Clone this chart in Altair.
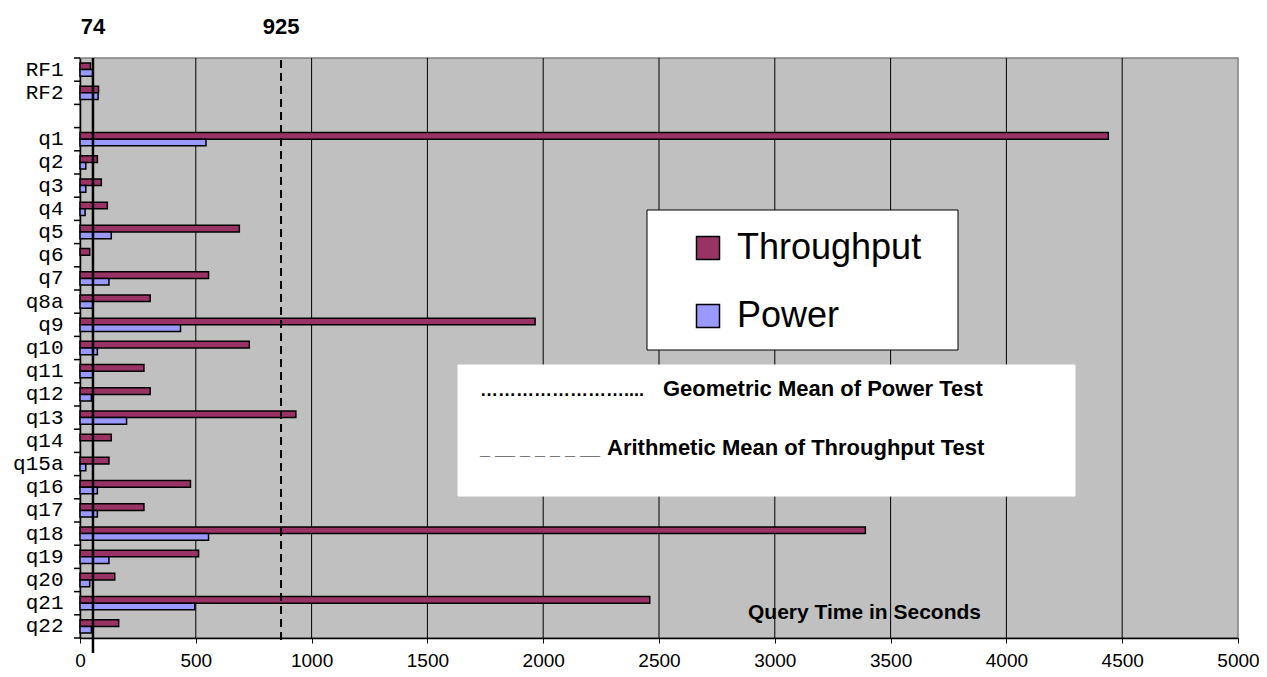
import altair as alt
import pandas as pd

categories = ["RF1", "RF2", " ", "q1", "q2", "q3", "q4", "q5", "q6", "q7", "q8a", "q9",
              "q10", "q11", "q12", "q13", "q14", "q15a", "q16", "q17", "q18", "q19",
              "q20", "q21", "q22"]
throughput = [45, 80, None, 4440, 75, 92, 118, 688, 42, 555, 303, 1965, 731, 276, 303,
              932, 135, 125, 477, 276, 3391, 512, 150, 2460, 167]
power = [55, 78, None, 544, 25, 25, 22, 135, None, 125, 56, 434, 75, 56, 49, 201, None,
         25, 75, 75, 555, 125, 42, 496, 49]
series = ["Throughput", "Power"]
colors = ["#993366", "#9999FF"]

x_ticks = [0, 500, 1000, 1500, 2000, 2500, 3000, 3500, 4000, 4500, 5000]
grid_values = [500, 1000, 1500, 2000, 2500, 3000, 3500, 4000, 4500]

mean_labels = ["74", "925"]
mean_positions = [56, 868]  # where the lines are drawn in the picture

rows = []
for c, t, p in zip(categories, throughput, power):
    rows.append({"cat": c, "series": "Throughput", "value": t})
    rows.append({"cat": c, "series": "Power", "value": p})
df = pd.DataFrame(rows)

W, H = 1158, 580
LEFT = 72  # plot origin at x = 8 + LEFT
DX = 8 + LEFT  # page x of the plot origin
DY = 58        # page y of the plot origin
FONT = "Liberation Sans"

xscale = alt.Scale(domain=[0, 5000], nice=False, zero=True)
yscale = alt.Scale(domain=categories, paddingInner=0, paddingOuter=0)

grid = alt.Chart(pd.DataFrame({"v": grid_values})).mark_rule(
    color="#000000", strokeWidth=1
).encode(x=alt.X("v:Q", scale=xscale), y=alt.value(0), y2=alt.value(H))

bars = alt.Chart(df).mark_bar(stroke="black", strokeWidth=1.5).encode(
    y=alt.Y("cat:N", sort=categories, scale=yscale,
            axis=alt.Axis(title=None, ticks=False, tickSize=0, labelPadding=17,
                          labelFont="Liberation Mono", labelFontSize=21,
                          labelColor="black", domainColor="#000000", domainWidth=1.5)),
    x=alt.X("value:Q", scale=xscale,
            axis=alt.Axis(title=None, values=x_ticks, grid=False, tickSize=5,
                          tickColor="black", labelPadding=8, labelFont=FONT,
                          labelFontSize=19, labelColor="black", domainColor="#000000",
                          domainWidth=1.5, labelFlush=False, format="d")),
    yOffset=alt.YOffset("series:N", sort=series,
                        scale=alt.Scale(domain=series, paddingInner=0, paddingOuter=0.75)),
    fill=alt.Fill("series:N", sort=series,
                  scale=alt.Scale(domain=series, range=colors),
                  legend=alt.Legend(title=None, orient="none", legendX=695 - DX - 5,
                                    legendY=172, labelLimit=0,
                                    symbolType="square", symbolSize=529,
                                    symbolStrokeColor="black", symbolStrokeWidth=1.5,
                                    labelFontSize=36, labelFont=FONT, labelColor="black",
                                    rowPadding=32, labelOffset=11, padding=0,
                                    direction="vertical", zindex=1)),
)

yticks = alt.Chart(pd.DataFrame({"cat": categories})).mark_rule(
    color="black", strokeWidth=1.5
).encode(y=alt.Y("cat:N", sort=categories, scale=yscale, bandPosition=0),
         x=alt.value(-6), x2=alt.value(0))
ytick_end = alt.Chart(pd.DataFrame({"a": [0]})).mark_rule(
    color="black", strokeWidth=1.5
).encode(y=alt.value(H), x=alt.value(-6), x2=alt.value(0))

means = pd.DataFrame({"v": mean_positions, "label": mean_labels})
geo_line = alt.Chart(means.iloc[[0]]).mark_rule(color="black", strokeWidth=2.5).encode(
    x=alt.X("v:Q", scale=xscale), y=alt.value(0), y2=alt.value(H + 15))
ari_line = alt.Chart(means.iloc[[1]]).mark_rule(
    color="black", strokeWidth=2, strokeDash=[8, 5]
).encode(x=alt.X("v:Q", scale=xscale), y=alt.value(2), y2=alt.value(H + 2))
mean_text = alt.Chart(means).mark_text(
    font=FONT, fontSize=22, fontWeight="bold", color="black", baseline="middle"
).encode(x=alt.X("v:Q", scale=xscale), y=alt.value(-31), text="label:N")

one = pd.DataFrame({"a": [0]})
legend_box = alt.Chart(one).mark_rect(fill="white", stroke="black", strokeWidth=1).encode(
    x=alt.value(647 - DX), x2=alt.value(958 - DX), y=alt.value(210 - DY),
    y2=alt.value(350 - DY))
note_box = alt.Chart(one).mark_rect(fill="white", stroke="white").encode(
    x=alt.value(458 - DX), x2=alt.value(1075 - DX), y=alt.value(365 - DY),
    y2=alt.value(496 - DY))

note_df = pd.DataFrame({
    "t": ["Geometric Mean of Power Test", "Arithmetic Mean of Throughput Test"],
    "px": [663 - DX, 607 - DX],
    "py": [396 - DY, 455 - DY],
})
note_text = alt.Chart(note_df).mark_text(
    font=FONT, fontSize=22, fontWeight="bold", color="black", align="left",
    baseline="alphabetic"
).encode(x=alt.X("px:Q", scale=None), y=alt.Y("py:Q", scale=None), text="t:N")

leader_df = pd.DataFrame({
    "t": ["……………………....", "_ __ _ _ _ _ __"],
    "px": [480 - DX, 480 - DX],
    "py": [396 - DY, 455 - DY],
})
leader_text = alt.Chart(leader_df).mark_text(
    font=FONT, fontSize=18, fontWeight="bold", color="black", align="left",
    baseline="alphabetic"
).encode(x=alt.X("px:Q", scale=None), y=alt.Y("py:Q", scale=None), text="t:N")

axis_note = alt.Chart(pd.DataFrame({"t": ["Query Time in Seconds"]})).mark_text(
    font=FONT, fontSize=21, fontWeight="bold", color="black", align="right",
    baseline="alphabetic"
).encode(x=alt.value(981 - DX), y=alt.value(619 - DY), text="t:N")

chart = alt.layer(
    grid, bars, yticks, ytick_end, geo_line, ari_line, mean_text,
    legend_box, note_box, note_text, leader_text, axis_note
).properties(
    width=W, height=H,
    autosize=alt.AutoSizeParams(type="none"),
    padding={"left": LEFT, "top": 50, "right": 21, "bottom": 31},
).configure_view(fill="#C0C0C0", stroke="#808080", strokeWidth=1.5)

chart.save("out.html", embed_options={"renderer": "svg", "actions": False})
